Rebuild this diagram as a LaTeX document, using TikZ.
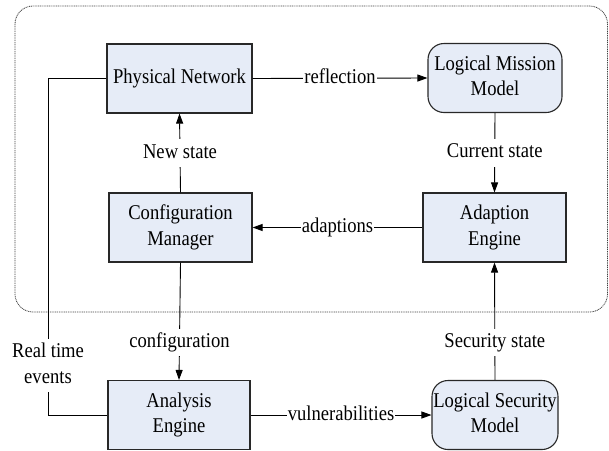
\documentclass[tikz,border=0pt]{standalone}
\usepackage{fontspec}
\usepackage{graphicx}
\setmainfont{Liberation Serif}
\usetikzlibrary{arrows.meta}
\definecolor{boxfill}{RGB}{230,236,247}
\definecolor{boxline}{RGB}{40,40,40}
\newcommand\tx[1]{\scalebox{0.886}[1]{\begin{tabular}{@{}c@{}}#1\end{tabular}}}
\tikzset{
  blk/.style={draw=boxline, line width=1.1pt, fill=boxfill, inner sep=0pt, minimum height=69pt},
  rblk/.style={blk, rounded corners=16pt},
  conn/.style={draw=black, line width=0.9pt},
  arr/.style={conn, -{Triangle[length=10pt,width=7pt]}},
  lbl/.style={fill=white, inner sep=1pt},
  frame/.style={draw=black!75, line width=0.8pt, dash pattern=on 1pt off 0.8pt, rounded corners=18pt}
}
\begin{document}
\begin{tikzpicture}[x=1pt,y=-1pt,font=\fontsize{21}{25.5}\selectfont]
\useasboundingbox (0,0) rectangle (609,450);
\draw[frame] (15,6) rectangle (607.5,312);
\node[blk, minimum width=145pt] (pn) at (179.5,78.5) {\tx{Physical Network}};
\node[rblk, minimum width=134pt] (lmm) at (495,78) {\tx{Logical Mission\\Model}};
\node[blk, minimum width=143pt] (cm) at (180.5,227.5) {\tx{Configuration\\Manager}};
\node[blk, minimum width=143pt] (ae) at (494.5,227.5) {\tx{Adaption\\Engine}};
\node[blk, minimum width=142pt] (an) at (179,415) {\tx{Analysis\\Engine}};
\node[rblk, minimum width=126pt] (lsm) at (495,415) {\tx{Logical Security\\Model}};
\coordinate (c1) at (48,78.5);
\coordinate (c2) at (48,415);
\draw[arr] (pn.east) -- node[lbl] {\tx{reflection}} (lmm.west);
\draw[arr] (lmm.south) -- node[lbl] {\tx{Current state}} (ae.north);
\draw[arr] (ae.west) -- node[lbl] {\tx{adaptions}} (cm.east);
\draw[arr] (cm.north) -- node[lbl] {\tx{New state}} (pn.south);
\draw[arr] (cm.south) -- node[lbl, pos=0.68] {\tx{configuration}} (an.north);
\draw[arr] (lsm.north) -- node[lbl, pos=0.32] {\tx{Security state}} (ae.south);
\draw[conn] (pn.west) -- (c1) -- node[lbl, pos=0.853] {\tx{Real time\\events}} (c2) -- (an.west);
\draw[arr] (an.east) -- node[lbl] {\tx{vulnerabilities}} (lsm.west);
\end{tikzpicture}
\end{document}
